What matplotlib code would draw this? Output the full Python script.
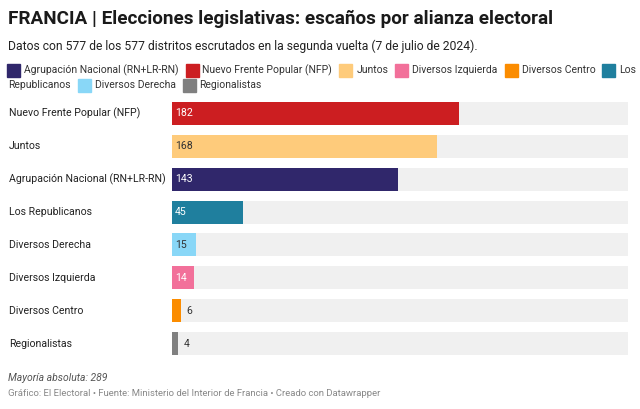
import matplotlib.pyplot as plt
from matplotlib.patches import Rectangle

plt.rcParams['font.family'] = ['Roboto', 'DejaVu Sans']

# data
parties = ["Nuevo Frente Popular (NFP)", "Juntos", "Agrupación Nacional (RN+LR-RN)",
           "Los Republicanos", "Diversos Derecha", "Diversos Izquierda",
           "Diversos Centro", "Regionalistas"]
seats = [182, 168, 143, 45, 15, 14, 6, 4]
colors = ["#cc1e21", "#fecb7b", "#30276b", "#1f7f9e", "#89d7f7", "#f2709a", "#fb8c00", "#808080"]
label_colors = ["white", "#333333", "white", "white", "#333333", "white", "#333333", "#333333"]
majority = 289

legend_names = ["Agrupación Nacional (RN+LR-RN)", "Nuevo Frente Popular (NFP)", "Juntos",
                "Diversos Izquierda", "Diversos Centro", "Los Republicanos",
                "Diversos Derecha", "Regionalistas"]
legend_colors = ["#30276b", "#cc1e21", "#fecb7b", "#f2709a", "#fb8c00", "#1f7f9e",
                 "#89d7f7", "#808080"]

W, H = 640, 409
fig = plt.figure(figsize=(W / 100, H / 100), dpi=100)

def px(x, y):
    return x / W, 1 - y / H

fig.text(*px(8, 19), "FRANCIA | Elecciones legislativas: escaños por alianza electoral",
         fontsize=13.6, fontweight='bold', color='#1a1a1a', va='center')
fig.text(*px(8, 46), "Datos con 577 de los 577 distritos escrutados en la segunda vuelta (7 de julio de 2024).",
         fontsize=8.7, color='#222222', va='center')

# legend, flowing layout
renderer = fig.canvas.get_renderer()
fs_leg = 7.5
x, y = 7, 70
line_h = 15
right_edge = 634
for name, c in zip(legend_names, legend_colors):
    if x + 30 > right_edge:
        x, y = 7, y + line_h
    fig.patches.append(Rectangle(px(x, y + 6.5), 13 / W, 13 / H, transform=fig.transFigure,
                                 color=c, figure=fig))
    x += 17
    chunk = ""
    for w in name.split(" "):
        test = (chunk + " " + w).strip()
        t = fig.text(*px(x, y), test, fontsize=fs_leg, color='#333333', va='center')
        ww = t.get_window_extent(renderer).width
        t.remove()
        if x + ww > right_edge and chunk:
            fig.text(*px(x, y), chunk, fontsize=fs_leg, color='#333333', va='center')
            x, y = 8, y + line_h
            chunk = w
        else:
            chunk = test
    t = fig.text(*px(x, y), chunk, fontsize=fs_leg, color='#333333', va='center')
    x += t.get_window_extent(renderer).width + 7

# bars
ax = fig.add_axes([172 / W, 1 - 360 / H, (628 - 172) / W, 263 / H])
ypos = list(range(len(parties)))
ax.barh(ypos, [majority] * len(parties), height=0.7, color='#f0f0f0')
ax.barh(ypos, seats, height=0.7, color=colors)
ax.set_xlim(0, majority)
ax.set_ylim(len(parties) - 0.5, -0.5)
ax.axis('off')

unit = (628 - 172) / majority
for i, (p, v) in enumerate(zip(parties, seats)):
    ax.text(-163 / unit, i, p, fontsize=7.6, color='#222222', va='center', ha='left')
    if v >= 10:
        ax.text(3 / unit, i, str(v), fontsize=7.6, color=label_colors[i], va='center', ha='left')
    else:
        ax.text(v + 5 / unit, i, str(v), fontsize=7.6, color=label_colors[i], va='center', ha='left')

fig.text(*px(8, 378), "Mayoría absoluta: 289", fontsize=7.5, style='italic', color='#555555', va='center')
fig.text(*px(8, 394), "Gráfico: El Electoral • Fuente: Ministerio del Interior de Francia • Creado con Datawrapper",
         fontsize=6.8, color='#888888', va='center')

fig.savefig("out.png", dpi=100, facecolor='white')
